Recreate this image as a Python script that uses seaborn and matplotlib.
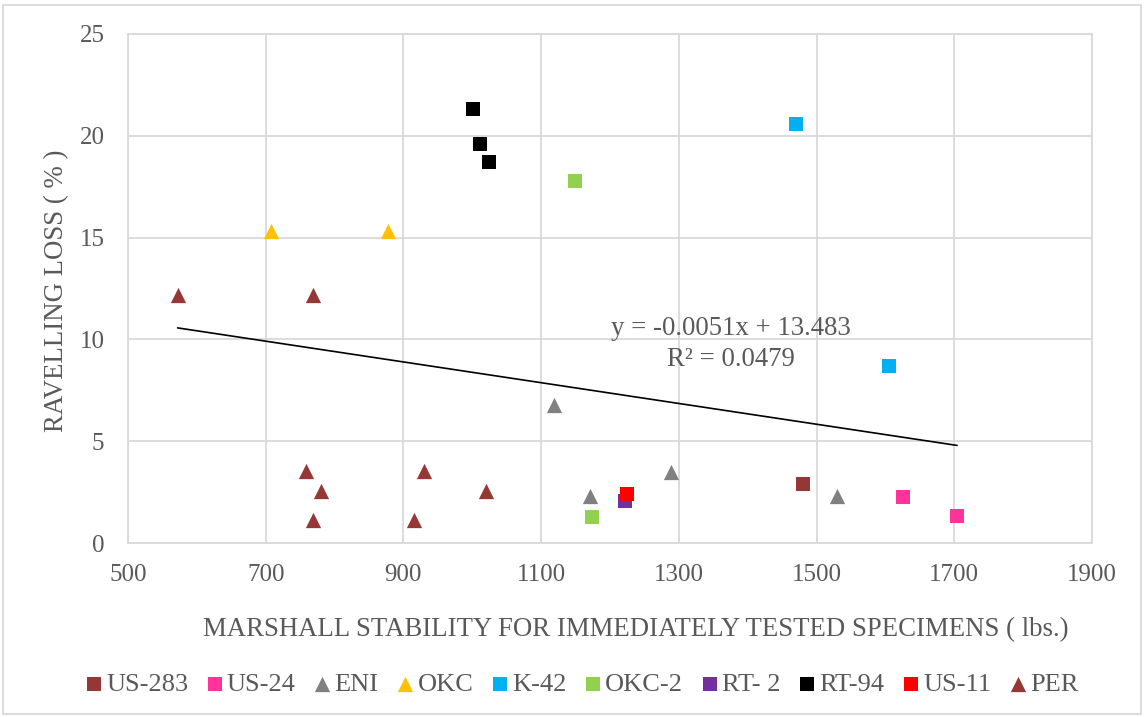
import matplotlib
matplotlib.use("Agg")
import matplotlib.pyplot as plt
import seaborn as sns
import pandas as pd
from matplotlib.patches import Rectangle

# Marshall stability (lbs.) and ravelling loss (%) per mix
series_names = ["US-283", "US-24", "ENI", "OKC", "K-42", "OKC-2", "RT- 2", "RT-94", "US-11", "PER"]

us283_x = [1481]
us283_y = [2.88]
us24_x = [1625, 1704]
us24_y = [2.27, 1.34]
eni_x = [1118, 1171, 1288, 1529]
eni_y = [6.8, 2.32, 3.48, 2.32]
okc_x = [708, 877]
okc_y = [15.34, 15.34]
k42_x = [1470, 1605]
k42_y = [20.6, 8.7]
okc2_x = [1149, 1174]
okc2_y = [17.8, 1.29]
rt2_x = [1222]
rt2_y = [2.08]
rt94_x = [1001, 1011, 1024]
rt94_y = [21.3, 19.6, 18.7]
us11_x = [1225]
us11_y = [2.43]
per_x = [572, 769, 759, 780, 769, 930, 1020, 915]
per_y = [12.17, 12.17, 3.53, 2.53, 1.13, 3.53, 2.53, 1.13]

# Linear trend line reported for all points
trend_slope = -0.0051
trend_intercept = 13.483
trend_r2 = 0.0479

x_ticks = [500, 700, 900, 1100, 1300, 1500, 1700, 1900]
y_ticks = [0, 5, 10, 15, 20, 25]

series_x = [us283_x, us24_x, eni_x, okc_x, k42_x, okc2_x, rt2_x, rt94_x, us11_x, per_x]
series_y = [us283_y, us24_y, eni_y, okc_y, k42_y, okc2_y, rt2_y, rt94_y, us11_y, per_y]

rows = []
for name, xs, ys in zip(series_names, series_x, series_y):
    for xv, yv in zip(xs, ys):
        rows.append({"series": name, "stability": xv, "loss": yv})
df = pd.DataFrame(rows)

colors = {
    "US-283": "#953735", "US-24": "#FF3399", "ENI": "#808080", "OKC": "#FFC000",
    "K-42": "#00B0F0", "OKC-2": "#92D050", "RT- 2": "#7030A0", "RT-94": "#000000",
    "US-11": "#FF0000", "PER": "#953735",
}
markers = {
    "US-283": "s", "US-24": "s", "ENI": "^", "OKC": "^", "K-42": "s",
    "OKC-2": "s", "RT- 2": "s", "RT-94": "s", "US-11": "s", "PER": "^",
}

sns.set_theme(style="white")
plt.rcParams["font.family"] = ["Liberation Serif", "DejaVu Serif"]
text_color = "#595959"
grid_color = "#D9D9D9"

fig = plt.figure(figsize=(11.44, 7.17), dpi=100)
ax = fig.add_axes([128 / 1144, 1 - 543 / 717, (1092 - 128) / 1144, (543 - 34) / 717])

for name in series_names:
    sub = df[df["series"] == name]
    size = 121 if markers[name] == "^" else 94
    sns.scatterplot(data=sub, x="stability", y="loss", marker=markers[name],
                    color=colors[name], s=size, linewidth=0, ax=ax, label=name,
                    zorder=3)

# Trend line across the range of observed stabilities
x0, x1 = df["stability"].min(), df["stability"].max()
ax.plot([x0, x1], [trend_slope * x0 + trend_intercept, trend_slope * x1 + trend_intercept],
        color="black", linewidth=1.2, zorder=2)
ax.text(1376, 10.55, f"y = {trend_slope:.4f}x + {trend_intercept:.3f}", ha="center",
        va="center", fontsize=19.3, color=text_color)
ax.text(1376, 9.0, f"R² = {trend_r2:.4f}", ha="center", va="center",
        fontsize=19.3, color=text_color)

ax.set_xlim(500, 1900)
ax.set_ylim(0, 25)
ax.set_xticks(x_ticks)
ax.set_yticks(y_ticks)
ax.grid(True, color=grid_color, linewidth=1.3)
ax.set_axisbelow(True)
for sp in ax.spines.values():
    sp.set_color(grid_color)
    sp.set_linewidth(1.3)
ax.tick_params(axis="both", length=0, labelsize=18, labelcolor=text_color)
ax.tick_params(axis="x", pad=15)
ax.tick_params(axis="y", pad=17)
ax.set_xlabel("")
ax.set_ylabel("")

fig.text(636 / 1144, 1 - 630 / 717, "MARSHALL STABILITY FOR IMMEDIATELY TESTED SPECIMENS ( lbs.)",
         ha="center", va="center", fontsize=19.3, color=text_color)
fig.text(57 / 1144, 1 - 291 / 717, "RAVELLING LOSS ( % )", rotation=90,
         ha="center", va="center", fontsize=19.3, color=text_color)

leg = ax.legend(loc="center", bbox_to_anchor=(582 / 1144, 1 - 684 / 717),
                bbox_transform=fig.transFigure, ncol=10, frameon=False,
                fontsize=19, handletextpad=0.17, columnspacing=0.7,
                handlelength=0.6, markerscale=1.0, borderpad=0)
for t in leg.get_texts():
    t.set_color(text_color)

# Chart area border
fig.patches.append(Rectangle((3 / 1144, 3 / 717), 1138 / 1144, 709 / 717,
                             transform=fig.transFigure, fill=False,
                             edgecolor=grid_color, linewidth=1.3))

fig.savefig("out.png", dpi=100)
